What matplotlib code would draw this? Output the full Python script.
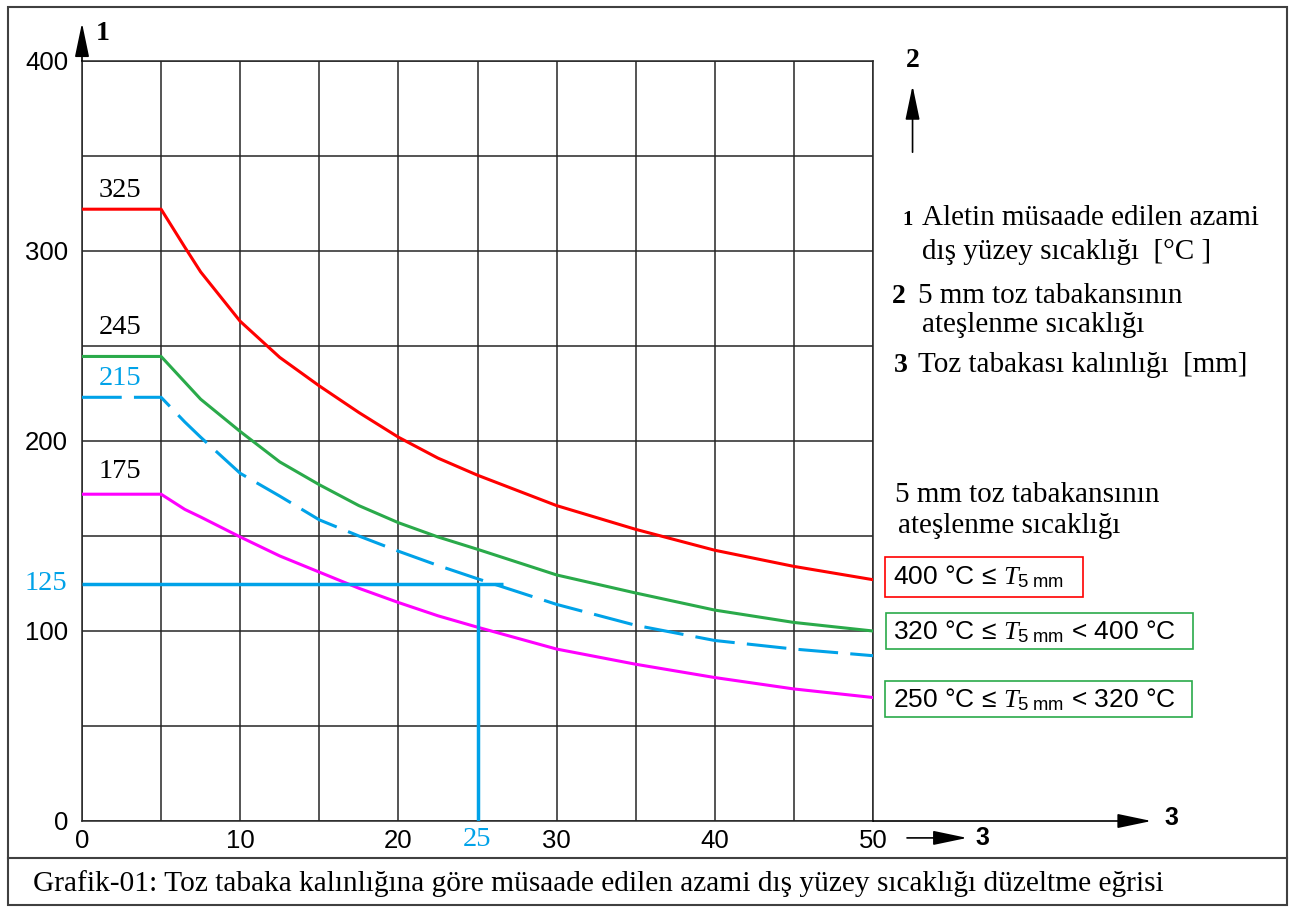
import matplotlib
matplotlib.use('Agg')
import matplotlib.pyplot as plt
from matplotlib.patches import Rectangle
from matplotlib.lines import Line2D

W, H = 1293, 907

# dust layer thickness [mm] and max surface temperature [°C] per curve
thickness = [0, 5, 6.5, 7.5, 10, 12.5, 15, 17.5, 20, 22.5, 25, 30, 35, 40, 45, 50]
red_curve = [322, 322, 302, 289, 263, 244, 229, 215, 202, 191, 182, 166, 153.5, 142.5, 134, 127]
green_curve = [244.5, 244.5, 231, 222, 205, 189, 177, 166, 157, 149.5, 143, 129.5, 120, 111, 104.5, 100]
blue_curve = [223, 223, 210, 202, 183, 171, 158.5, 150, 142, 134.5, 127.5, 114, 103, 95, 90.5, 87]
magenta_curve = [172, 172, 164, 160, 149.5, 139.5, 131, 122.5, 115, 108, 102, 90.5, 82.5, 75.5, 69.5, 65]

start_labels = ['325', '245', '215', '175']
x_ticks = [0, 10, 20, 30, 40, 50]
y_ticks = [0, 100, 200, 300, 400]

# worked example: 25 mm layer -> 125 °C
ref_thickness = 25
ref_temp = 125

RED = '#ff0000'
GREEN = '#2aaa4a'
BLUE = '#00a2e8'
MAGENTA = '#ff00ff'
GRID = '#262626'
SERIF = 'Liberation Serif'

plt.rcParams['font.family'] = 'Liberation Sans'
plt.rcParams['mathtext.fontset'] = 'custom'
plt.rcParams['mathtext.it'] = 'Liberation Serif:italic'
plt.rcParams['mathtext.rm'] = 'Liberation Sans'


def fx(px):
    return px / W


def fy(py):
    return 1 - py / H


fig = plt.figure(figsize=(W / 100, H / 100), dpi=100)
ax = fig.add_axes([fx(82), fy(821), fx(873) - fx(82), fy(61) - fy(821)])

ax.set_xlim(0, 50)
ax.set_ylim(0, 400)
ax.set_xticks(x_ticks)
ax.set_xticks([5, 15, 25, 35, 45], minor=True)
ax.set_yticks(y_ticks)
ax.set_yticks([50, 150, 250, 350], minor=True)
ax.grid(True, which='both', color=GRID, lw=1.1)
ax.tick_params(which='both', length=0, labelsize=18.5)
ax.tick_params(axis='x', pad=6)
ax.tick_params(axis='y', pad=10)
for s in ax.spines.values():
    s.set_color(GRID)
    s.set_linewidth(1.1)

ax.plot(thickness, red_curve, color=RED, lw=2.2, zorder=3)
ax.plot(thickness, green_curve, color=GREEN, lw=2.2, zorder=3)
ax.plot(thickness, blue_curve, color=BLUE, lw=2.2, ls=(0, (13, 4)), zorder=3)
ax.plot(thickness, magenta_curve, color=MAGENTA, lw=2.2, zorder=3)

# start value labels above the flat parts
label_colors = ['black', 'black', BLUE, 'black']
label_y = [red_curve[0] + 10, green_curve[0] + 15, blue_curve[0] + 10, magenta_curve[0] + 12]
for txt, c, yy in zip(start_labels, label_colors, label_y):
    ax.text(2.4, yy, txt, color=c, ha='center', va='center', family=SERIF, fontsize=20.5)

# worked example lines
ax.hlines(ref_temp, 0, ref_thickness + 1.6, color=BLUE, lw=2.5, zorder=4)
ax.vlines(ref_thickness, 0, ref_temp, color=BLUE, lw=2.5, zorder=4)
ax.text(-0.95, ref_temp, str(ref_temp), color=BLUE, ha='right', va='center',
        family=SERIF, fontsize=20.5, clip_on=False)
ax.text(ref_thickness, -9.5, str(ref_thickness), color=BLUE, ha='center', va='center',
        family=SERIF, fontsize=20.5, clip_on=False)

# axis arrows
arrow = dict(arrowstyle='-|>,head_length=1.05,head_width=0.22', mutation_scale=20,
             lw=1.2, color='black', shrinkA=0, shrinkB=0)
ax.annotate('', xy=(0, 420), xytext=(0, 400), arrowprops=arrow, annotation_clip=False)
ax.annotate('', xy=(67.6, 0), xytext=(50, 0), arrowprops=arrow, annotation_clip=False)
ax.annotate('', xy=(55.95, -8.9), xytext=(52.15, -8.9), arrowprops=arrow, annotation_clip=False)
ax.annotate('', xy=(52.5, 387), xytext=(52.5, 352), arrowprops=arrow, annotation_clip=False)

ax.text(1.33, 414.5, '1', ha='center', va='center', family=SERIF, fontweight='bold',
        fontsize=20, clip_on=False)
ax.text(52.5, 400.5, '2', ha='center', va='center', family=SERIF, fontweight='bold',
        fontsize=20, clip_on=False)
ax.text(68.85, 1.5, '3', ha='center', va='center', fontweight='bold', fontsize=18, clip_on=False)
ax.text(56.9, -8.8, '3', ha='center', va='center', fontweight='bold', fontsize=18, clip_on=False)

# key on the right
fig.text(fx(902), fy(225), '1', family=SERIF, fontweight='bold', fontsize=15, va='baseline')
fig.text(fx(922), fy(225), 'Aletin müsaade edilen azami', family=SERIF, fontsize=21, va='baseline')
fig.text(fx(922), fy(259), 'dış yüzey sıcaklığı  [°C ]', family=SERIF, fontsize=21, va='baseline')
fig.text(fx(892), fy(303), '2', family=SERIF, fontweight='bold', fontsize=20, va='baseline')
fig.text(fx(918), fy(303), '5 mm toz tabakansının', family=SERIF, fontsize=21, va='baseline')
fig.text(fx(922), fy(332), 'ateşlenme sıcaklığı', family=SERIF, fontsize=21, va='baseline')
fig.text(fx(894), fy(372), '3', family=SERIF, fontweight='bold', fontsize=20, va='baseline')
fig.text(fx(918), fy(372), 'Toz tabakası kalınlığı  [mm]', family=SERIF, fontsize=21, va='baseline')

fig.text(fx(895), fy(502), '5 mm toz tabakansının', family=SERIF, fontsize=21, va='baseline')
fig.text(fx(898), fy(533), 'ateşlenme sıcaklığı', family=SERIF, fontsize=21, va='baseline')

boxes = [
    ((885, 557, 1083, 597), RED, r'400 °C ≤ $\mathit{T}_{\mathrm{5\ mm}}$', 584),
    ((886, 613, 1193, 649), GREEN, r'320 °C ≤ $\mathit{T}_{\mathrm{5\ mm}}$ < 400 °C', 639),
    ((885, 681, 1192, 717), GREEN, r'250 °C ≤ $\mathit{T}_{\mathrm{5\ mm}}$ < 320 °C', 707),
]
for (x0, y0, x1, y1), ec, txt, base in boxes:
    fig.patches.append(Rectangle((fx(x0), fy(y1)), fx(x1) - fx(x0), fy(y0) - fy(y1),
                                 transform=fig.transFigure, fill=False, ec=ec, lw=1.2))
    fig.text(fx(893), fy(base), txt, fontsize=19, va='baseline')

# frame and caption
fig.patches.append(Rectangle((fx(8), fy(905)), fx(1287) - fx(8), fy(7) - fy(905),
                             transform=fig.transFigure, fill=False, ec='#404040', lw=1.5))
fig.lines.append(Line2D([fx(8), fx(1287)], [fy(858), fy(858)], transform=fig.transFigure,
                        color='#404040', lw=1.5))
fig.text(fx(33), fy(891), 'Grafik-01: Toz tabaka kalınlığına göre müsaade edilen azami dış yüzey '
         'sıcaklığı düzeltme eğrisi', family=SERIF, fontsize=21.2, va='baseline')

fig.savefig('out.png', dpi=100)
